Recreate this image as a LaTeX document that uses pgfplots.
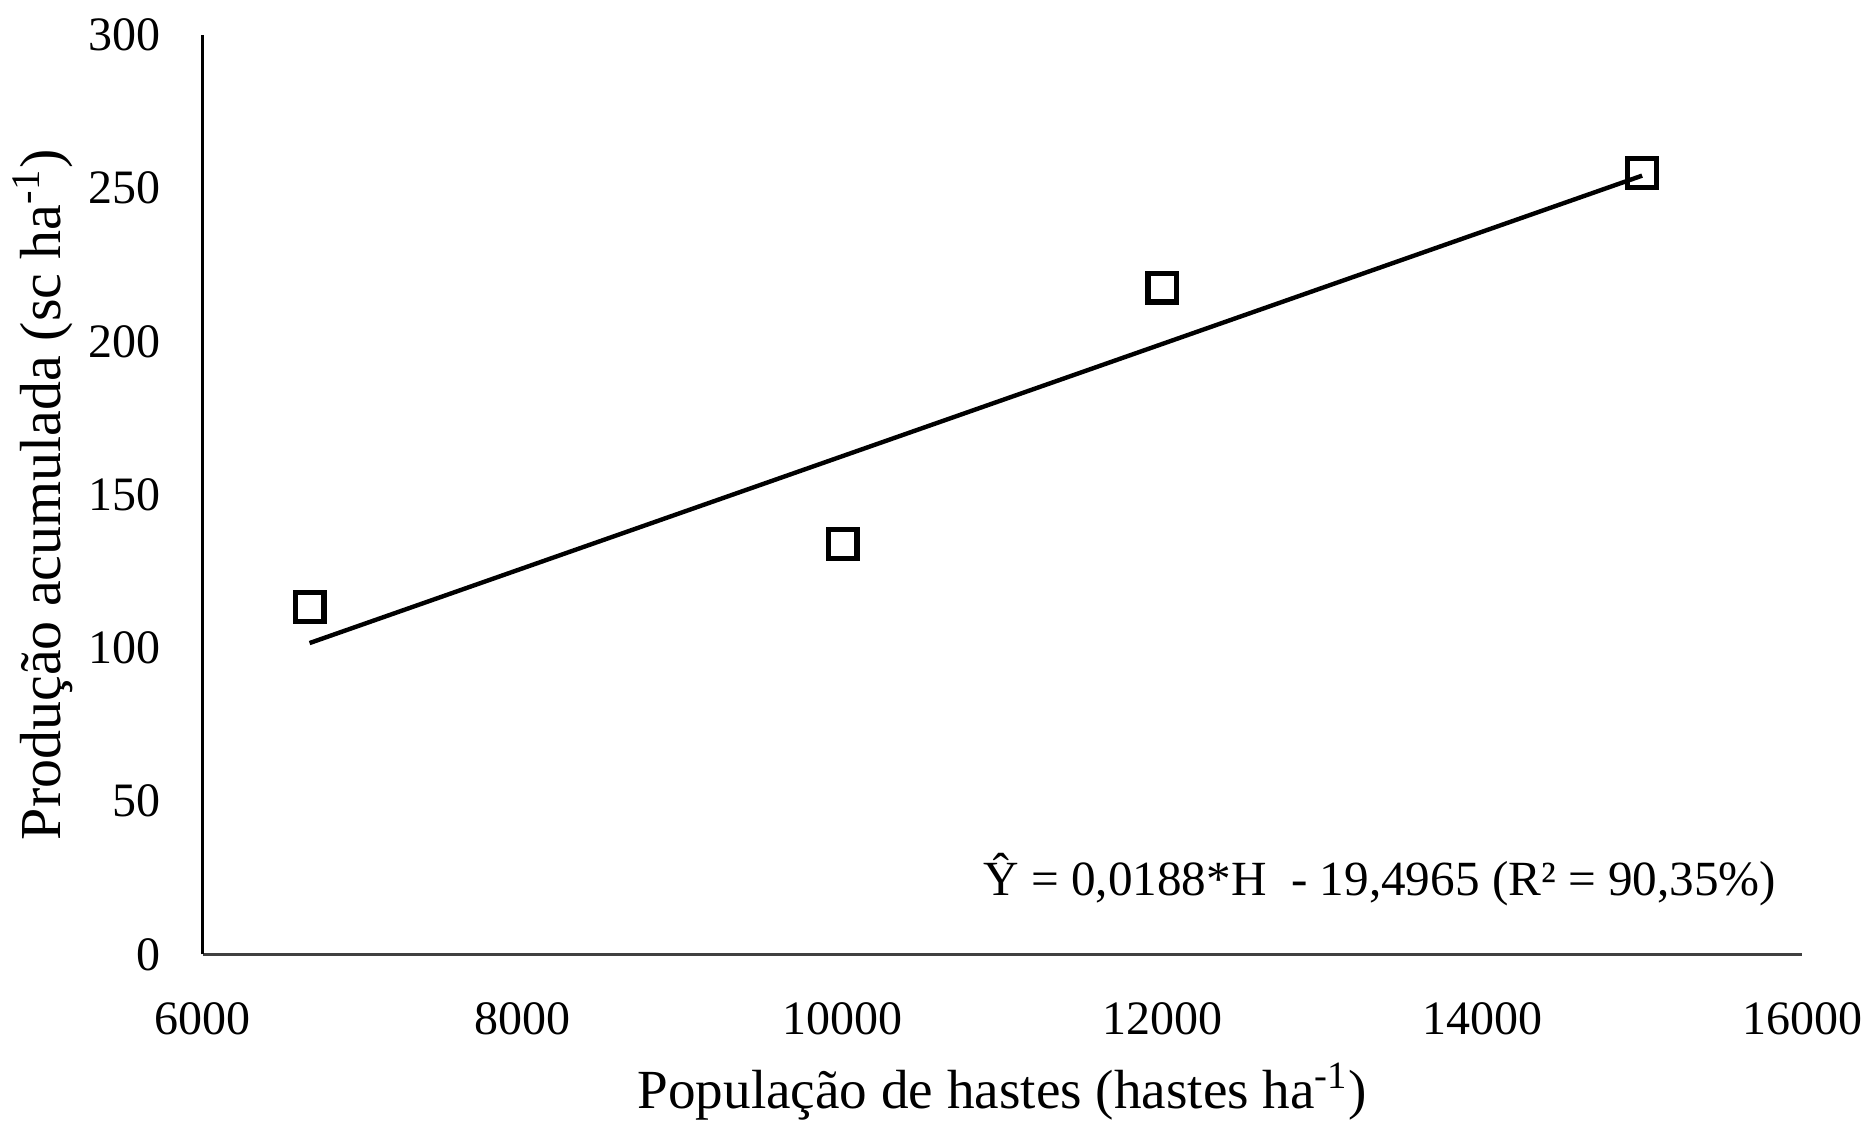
\documentclass[border=0pt]{standalone}
\usepackage{fontspec}
\setmainfont{Liberation Serif}
\usepackage{pgfplots}
\pgfplotsset{compat=1.18}
\begin{document}
\begin{tikzpicture}
\begin{axis}[
  scale only axis,
  width=400pt, height=230pt,
  xmin=6000, xmax=16000, ymin=0, ymax=300,
  axis x line*=bottom, axis y line*=left,
  axis line style={-, black, line width=0.7pt},
  x axis line style={draw=black!75, line width=0.9pt},
  xtick={6000,8000,10000,12000,14000,16000},
  ytick={0,50,100,150,200,250,300},
  tick style={draw=none},
  scaled x ticks=false,
  /pgf/number format/1000 sep={},
  /pgf/number format/assume math mode=true,
  ticklabel style={font=\fontsize{12}{14}\selectfont},
  xticklabel style={yshift=-8.5pt},
  yticklabel style={xshift=-7pt},
  xlabel={População de hastes (hastes ha\textsuperscript{-1})},
  ylabel={Produção acumulada (sc ha\textsuperscript{-1})},
  xlabel style={font=\fontsize{13.8}{16}\selectfont, at={([yshift=-34.3pt]axis description cs:0.5,0)}, anchor=center},
  ylabel style={font=\fontsize{14.5}{17}\selectfont, at={([xshift=-40pt]axis description cs:0,0.5)}, anchor=center, rotate=0},
  clip=false,
]
\addplot[black, line width=1.1pt] coordinates {(6667,101.6) (15000,254.1)};
\addplot[only marks, mark=square, mark size=3.6pt, mark options={black, line width=1.3pt}] coordinates {
  (6667,113.4) (10000,133.9) (12000,217.6) (15000,255.0)
};
\node[font=\fontsize{12.3}{14}\selectfont, anchor=center] at (axis cs:13360,24.4) {Ŷ = 0,0188*H~~- 19,4965 (R² = 90,35\%)};
\end{axis}
\pgfresetboundingbox
\path ([xshift=-50.75pt,yshift=-41.5pt]current axis.south west) rectangle ([xshift=18pt,yshift=8.75pt]current axis.north east);
\end{tikzpicture}
\end{document}
